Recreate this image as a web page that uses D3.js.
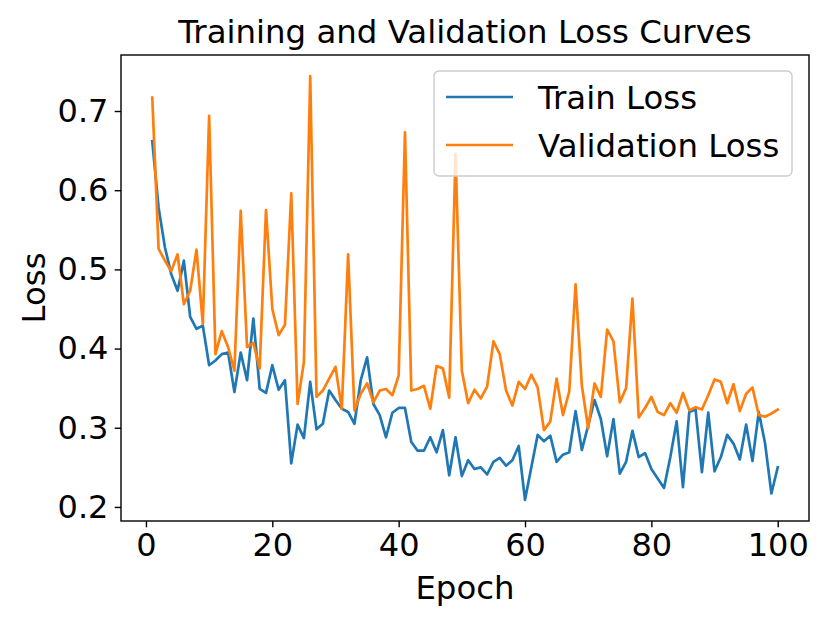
<!DOCTYPE html>
<html>
<head>
<meta charset="utf-8">
<script src="https://cdn.jsdelivr.net/npm/d3@7"></script>
<style>
  body { margin: 0; background: #fff; }
  svg { display: block; font-family: "DejaVu Sans", sans-serif; }
</style>
</head>
<body>
<div id="chart"></div>
<script>
const Epochs = d3.range(1, 101);

const TrainLoss = [
    0.662, 0.578, 0.528, 0.494, 0.473, 0.511, 0.440, 0.425, 0.429, 0.379,
    0.385, 0.393, 0.395, 0.345, 0.395, 0.360, 0.438, 0.349, 0.344, 0.379,
    0.348, 0.360, 0.255, 0.304, 0.287, 0.358, 0.298, 0.305, 0.347, 0.335,
    0.324, 0.320, 0.305, 0.360, 0.389, 0.330, 0.316, 0.288, 0.319, 0.325,
    0.325, 0.282, 0.271, 0.271, 0.288, 0.269, 0.297, 0.240, 0.288, 0.239,
    0.259, 0.248, 0.250, 0.241, 0.257, 0.262, 0.252, 0.259, 0.277, 0.209,
    0.250, 0.291, 0.283, 0.290, 0.257, 0.266, 0.269, 0.321, 0.272, 0.303,
    0.335, 0.311, 0.264, 0.311, 0.242, 0.257, 0.296, 0.263, 0.268, 0.248,
    0.236, 0.224, 0.263, 0.308, 0.225, 0.320, 0.323, 0.244, 0.319, 0.245,
    0.263, 0.291, 0.280, 0.260, 0.304, 0.258, 0.320, 0.280, 0.217, 0.250
];

const ValLoss = [
    0.717, 0.526, 0.511, 0.498, 0.519, 0.456, 0.473, 0.525, 0.431, 0.694,
    0.393, 0.422, 0.402, 0.372, 0.574, 0.402, 0.407, 0.375, 0.575, 0.450,
    0.417, 0.430, 0.596, 0.330, 0.383, 0.744, 0.339, 0.347, 0.362, 0.377,
    0.324, 0.519, 0.322, 0.343, 0.356, 0.332, 0.347, 0.349, 0.341, 0.366,
    0.673, 0.347, 0.349, 0.353, 0.324, 0.378, 0.375, 0.338, 0.646, 0.372,
    0.331, 0.348, 0.337, 0.352, 0.409, 0.393, 0.347, 0.328, 0.358, 0.349,
    0.367, 0.351, 0.297, 0.308, 0.362, 0.316, 0.346, 0.481, 0.353, 0.299,
    0.356, 0.339, 0.424, 0.409, 0.332, 0.350, 0.463, 0.313, 0.325, 0.339,
    0.320, 0.316, 0.331, 0.319, 0.344, 0.322, 0.326, 0.323, 0.341, 0.361,
    0.358, 0.331, 0.355, 0.321, 0.343, 0.351, 0.316, 0.314, 0.318, 0.323
];

const XTicks = [0, 20, 40, 60, 80, 100];
const YTicks = [0.2, 0.3, 0.4, 0.5, 0.6, 0.7];

const SeriesNames = ["Train Loss", "Validation Loss"];
const SeriesColors = ["#1f77b4", "#ff7f0e"];

const width = 830;
const height = 623;
const margin = { top: 55, right: 21, bottom: 102, left: 121 };

// matplotlib style 5% padding around the data range
function padded(lo, hi) {
    const pad = (hi - lo) * 0.05;
    return [lo - pad, hi + pad];
}

const allLoss = TrainLoss.concat(ValLoss);

const x = d3.scaleLinear()
    .domain(padded(d3.min(Epochs), d3.max(Epochs)))
    .range([margin.left, width - margin.right]);

const y = d3.scaleLinear()
    .domain(padded(d3.min(allLoss), d3.max(allLoss)))
    .range([height - margin.bottom, margin.top]);

const svg = d3.select("#chart").append("svg")
    .attr("width", width)
    .attr("height", height);

// lines
const line = d3.line()
    .x(d => x(d[0]))
    .y(d => y(d[1]));

[TrainLoss, ValLoss].forEach((values, i) => {
    svg.append("path")
        .datum(d3.zip(Epochs, values))
        .attr("fill", "none")
        .attr("stroke", SeriesColors[i])
        .attr("stroke-width", 2.7)
        .attr("stroke-linejoin", "round")
        .attr("stroke-linecap", "square")
        .attr("d", line);
});

// axes
const xAxis = svg.append("g")
    .attr("transform", `translate(0,${height - margin.bottom})`)
    .call(d3.axisBottom(x).tickValues(XTicks).tickFormat(d3.format("d"))
        .tickSize(6.3).tickPadding(6));

const yAxis = svg.append("g")
    .attr("transform", `translate(${margin.left},0)`)
    .call(d3.axisLeft(y).tickValues(YTicks).tickFormat(d3.format(".1f"))
        .tickSize(6.3).tickPadding(6.3));

[xAxis, yAxis].forEach(g => {
    g.select(".domain").remove();
    g.selectAll(".tick line").attr("stroke", "#000").attr("stroke-width", 1.4);
    g.selectAll(".tick text")
        .attr("fill", "#000")
        .style("font-size", "32px")
        .style("font-family", "DejaVu Sans");
});

// frame
svg.append("rect")
    .attr("x", margin.left)
    .attr("y", margin.top)
    .attr("width", width - margin.left - margin.right)
    .attr("height", height - margin.top - margin.bottom)
    .attr("fill", "none")
    .attr("stroke", "#000")
    .attr("stroke-width", 1.4);

// title and labels
svg.append("text")
    .attr("x", (margin.left + width - margin.right) / 2)
    .attr("y", 43)
    .attr("text-anchor", "middle")
    .style("font-size", "32.4px")
    .text("Training and Validation Loss Curves");

svg.append("text")
    .attr("x", (margin.left + width - margin.right) / 2)
    .attr("y", 599)
    .attr("text-anchor", "middle")
    .style("font-size", "32.4px")
    .text("Epoch");

svg.append("text")
    .attr("transform", `translate(45,${(margin.top + height - margin.bottom) / 2}) rotate(-90)`)
    .attr("text-anchor", "middle")
    .style("font-size", "32.4px")
    .text("Loss");

// legend
const legend = svg.append("g");

legend.append("rect")
    .attr("x", 434)
    .attr("y", 71)
    .attr("width", 358)
    .attr("height", 105)
    .attr("rx", 5)
    .attr("fill", "#fff")
    .attr("fill-opacity", 0.8)
    .attr("stroke", "#ccc")
    .attr("stroke-width", 1.4);

const legendItems = legend.selectAll(".legend-item")
    .data(SeriesNames)
    .enter().append("g")
        .attr("class", "legend-item")
        .attr("transform", (d, i) => `translate(0,${97 + i * 48})`);

legendItems.append("line")
    .attr("x1", 446)
    .attr("x2", 513)
    .attr("stroke", (d, i) => SeriesColors[i])
    .attr("stroke-width", 2.7);

legendItems.append("text")
    .attr("x", 538)
    .attr("y", 12)
    .style("font-size", "32.4px")
    .text(d => d);
</script>
</body>
</html>
